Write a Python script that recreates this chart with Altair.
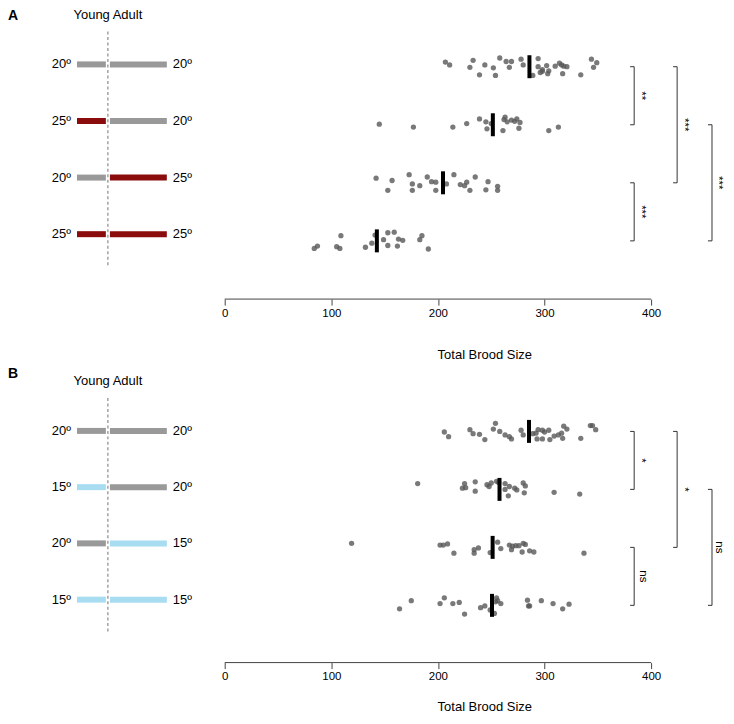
import altair as alt
import pandas as pd

FONT = "Liberation Sans"

# ------------------------- data -------------------------
ROWS = [1, 2, 3, 4]
TEMPS = ["15º", "20º", "25º"]

# Panel A: temperature before / after the young-adult stage
A_left = ["20º", "25º", "20º", "25º"]
A_right = ["20º", "20º", "25º", "25º"]
A_vals = [
    [207, 211, 233, 230, 239, 244, 252, 254, 258, 264, 269, 267, 278, 280, 294, 289, 294,
     298, 296, 302, 304, 303, 310, 314, 316, 318, 321, 317, 334, 344, 349, 346, 298],
    [145, 177, 214, 227, 239, 245, 246, 250, 261, 263, 262, 265, 269, 272, 274, 277, 276, 304, 313],
    [142, 157, 153, 173, 176, 176, 183, 190, 194, 198, 198, 208, 215, 221, 225, 227, 230,
     235, 245, 247, 256, 256],
    [84, 87, 105, 108, 109, 132, 138, 141, 149, 153, 153, 159, 163, 167, 162, 183, 185, 191],
]
A_jit = [
    [-0.08, -0.03, -0.11, 0.01, 0.14, -0.03, 0.02, 0.15, -0.15, -0.09, -0.09, 0.01, -0.13, -0.03,
     -0.14, 0.15, 0.0, 0.05, 0.10, -0.02, 0.07, 0.12, -0.01, -0.06, -0.03, -0.01, 0.0, 0.12, 0.14,
     -0.13, -0.07, 0.01, 0.08],
    [-0.01, 0.04, 0.04, -0.02, -0.10, -0.05, 0.07, -0.02, 0.10, -0.13, -0.09, -0.05, -0.08, -0.06,
     -0.10, -0.04, 0.06, 0.10, 0.04],
    [-0.08, -0.04, 0.13, -0.14, 0.02, 0.13, 0.05, -0.10, -0.02, -0.01, 0.13, 0.02, -0.14, 0.03,
     0.05, -0.01, 0.13, -0.10, 0.12, -0.02, 0.06, 0.13],
    [0.13, 0.09, 0.10, 0.13, -0.09, 0.11, 0.04, -0.10, -0.02, -0.14, 0.08, -0.15, -0.03, -0.01,
     0.09, -0.02, -0.09, 0.14],
]
A_sig = ["**", "***", "***", "***"]

# Panel B
B_left = ["20º", "15º", "20º", "15º"]
B_right = ["20º", "20º", "15º", "15º"]
B_vals = [
    [206, 210, 230, 233, 239, 244, 252, 254, 258, 263, 267, 269, 278, 280, 289, 292, 294, 293,
     298, 298, 300, 304, 305, 309, 313, 316, 318, 321, 317, 334, 343, 345, 348],
    [181, 223, 226, 225, 235, 235, 246, 248, 250, 255, 257, 263, 263, 266, 267, 272, 274, 280,
     282, 281, 309, 333],
    [119, 202, 205, 209, 215, 234, 234, 238, 249, 256, 259, 267, 270, 269, 273, 276, 280, 282,
     279, 286, 290, 337],
    [164, 175, 202, 206, 214, 220, 225, 240, 244, 249, 253, 255, 254, 256, 259, 284, 285, 286,
     297, 308, 317, 323],
]
B_jit = [
    [0.01, 0.09, -0.03, 0.04, 0.05, 0.14, -0.04, -0.14, 0.0, 0.06, 0.09, 0.13, -0.02, 0.06, 0.04,
     0.03, -0.03, 0.13, -0.02, 0.13, 0.01, -0.02, 0.14, 0.08, 0.06, 0.03, -0.09, -0.04, 0.12, 0.12,
     -0.10, -0.10, -0.03],
    [-0.10, -0.02, -0.03, -0.10, -0.13, 0.03, -0.08, -0.05, -0.11, -0.14, -0.12, -0.10, 0.0, 0.11,
     -0.05, -0.02, 0.01, -0.11, -0.06, 0.06, 0.05, 0.08],
    [-0.07, -0.04, -0.04, -0.06, 0.10, 0.04, 0.10, 0.01, 0.09, -0.09, 0.02, -0.04, -0.02, 0.04,
     -0.03, -0.03, -0.07, -0.05, 0.08, 0.06, 0.08, 0.10],
    [0.06, -0.08, -0.03, -0.13, -0.03, -0.05, 0.15, 0.04, 0.01, 0.08, 0.14, -0.13, -0.06, -0.08,
     -0.03, -0.09, 0.01, 0.01, -0.08, -0.03, 0.06, -0.02],
]
B_sig = ["*", "*", "ns", "ns"]

COMPARISONS = [(1, 2), (1, 3), (3, 4), (2, 4)]
X_TICKS = [0, 100, 200, 300, 400]

# ------------------------- layout / style -------------------------
W = 718
X_DOMAIN = [-203.3, 469.3]
TEMP_COLORS = ["#a8dcf1", "#999999", "#8b0c0c"]
SEG_LEFT = (-138.6, -111.5)
SEG_RIGHT = (-107.7, -54.3)
DASH_X = -109.6
LAB_LEFT_X = -144.3
LAB_RIGHT_X = -48.7
BRACKET_X = [384.1, 424.4, 384.1, 457.1]
BRACKET_TICK = 3.8
STAR_DX = 6.0
NS_DX = 8.0
TX_MAX = 464.0


def panel(letter, left_t, right_t, vals, jit, sig, height, ydat_dom, ysch_dom,
          ya_r, dash_r, title_y):
    one = pd.DataFrame({"k": [0]})
    xsc = alt.Scale(domain=X_DOMAIN, nice=False, zero=False)
    ysd = alt.Scale(domain=ydat_dom, nice=False, zero=False, reverse=True)
    yss = alt.Scale(domain=ysch_dom, nice=False, zero=False, reverse=True)
    csc = alt.Scale(domain=TEMPS, range=TEMP_COLORS)
    ax = alt.Axis(values=X_TICKS, format="d", title="Total Brood Size", grid=False,
                  domain=False, ticks=True, tickSize=6, tickColor="#444",
                  tickWidth=1, labelFont=FONT, labelFontSize=11.5,
                  labelColor="black", labelPadding=2, titleFont=FONT,
                  titleFontSize=13, titleFontWeight="normal", titleColor="black",
                  titleX=477, titleY=title_y, titleBaseline="middle",
                  titleAlign="center")

    def xn(f):
        return alt.X(f, scale=xsc, axis=ax)

    def xd(v):
        return alt.XDatum(v, scale=xsc, axis=ax)

    # ---- schematic ----
    seg = pd.DataFrame({
        "row": ROWS * 2,
        "start": [SEG_LEFT[0]] * 4 + [SEG_RIGHT[0]] * 4,
        "end": [SEG_LEFT[1]] * 4 + [SEG_RIGHT[1]] * 4,
        "temp": left_t + right_t,
    })
    lab = pd.DataFrame({"row": ROWS, "left": left_t, "right": right_t})

    dash = alt.Chart(one).mark_rule(color="#8a8a8a", strokeWidth=1.2, strokeDash=[3, 2.5]).encode(
        x=xd(DASH_X),
        y=alt.YDatum(dash_r[0], scale=yss, axis=None),
        y2=alt.datum(dash_r[1]),
    )
    segs = alt.Chart(seg).mark_rule(strokeWidth=6).encode(
        x=xn("start:Q"), x2="end:Q",
        y=alt.Y("row:Q", scale=yss, axis=None),
        color=alt.Color("temp:N", scale=csc, legend=None),
    )
    ltxt = alt.Chart(lab).mark_text(align="right", baseline="middle", font=FONT, fontSize=13,
                                    color="black").encode(
        x=xd(LAB_LEFT_X), y=alt.Y("row:Q", scale=yss, axis=None), text="left:N")
    rtxt = alt.Chart(lab).mark_text(align="left", baseline="middle", font=FONT, fontSize=13,
                                    color="black").encode(
        x=xd(LAB_RIGHT_X), y=alt.Y("row:Q", scale=yss, axis=None), text="right:N")
    ya = alt.Chart(one).mark_text(text="Young Adult", align="center", baseline="middle",
                                  font=FONT, fontSize=13, color="black").encode(
        x=xd(DASH_X), y=alt.YDatum(ya_r, scale=yss, axis=None))
    letter_t = alt.Chart(one).mark_text(text=letter, align="left", baseline="top", font=FONT,
                                        fontSize=14, fontWeight="bold", color="black").encode(
        x=alt.value(0), y=alt.value(0))
    schem = alt.layer(dash, segs, ltxt, rtxt, ya, letter_t)

    # ---- data ----
    recs = []
    for r, vs, js in zip(ROWS, vals, jit):
        for v, j in zip(vs, js):
            recs.append({"row": r, "value": v, "jit": j})
    pts_df = pd.DataFrame(recs)

    pts = alt.Chart(pts_df).transform_calculate(ypos="datum.row + datum.jit").mark_circle(
        size=28, color="#575757", opacity=0.8).encode(
        x=xn("value:Q"),
        y=alt.Y("ypos:Q", scale=ysd, axis=None),
    )
    mean = alt.Chart(pts_df).mark_tick(orient="vertical", size=23, thickness=4,
                                       color="black", opacity=1).encode(
        x=alt.X("mean(value):Q", scale=xsc, axis=ax),
        y=alt.Y("row:Q", scale=ysd, axis=None),
    )
    axis_line = alt.Chart(one).mark_rule(color="#444", strokeWidth=1).encode(
        x=xd(X_TICKS[0]), x2=alt.datum(X_TICKS[-1]),
        y=alt.value(height))

    br = pd.DataFrame({
        "r1": [c[0] for c in COMPARISONS],
        "r2": [c[1] for c in COMPARISONS],
        "bx": BRACKET_X,
        "bxi": [b - BRACKET_TICK for b in BRACKET_X],
        "tx": [min(b + (NS_DX if s == "ns" else STAR_DX), TX_MAX)
               for b, s in zip(BRACKET_X, sig)],
        "sig": sig,
    })
    br["mid"] = (br["r1"] + br["r2"]) / 2
    bv = alt.Chart(br).mark_rule(color="#333", strokeWidth=1).encode(
        x=xn("bx:Q"), y=alt.Y("r1:Q", scale=ysd, axis=None), y2="r2:Q")
    bt1 = alt.Chart(br).mark_rule(color="#333", strokeWidth=1).encode(
        x=xn("bxi:Q"), x2="bx:Q", y=alt.Y("r1:Q", scale=ysd, axis=None))
    bt2 = alt.Chart(br).mark_rule(color="#333", strokeWidth=1).encode(
        x=xn("bxi:Q"), x2="bx:Q", y=alt.Y("r2:Q", scale=ysd, axis=None))
    btx = alt.Chart(br).mark_text(angle=90, align="center", baseline="middle", font=FONT,
                                  fontSize=11.5, color="black").encode(
        x=xn("tx:Q"), y=alt.Y("mid:Q", scale=ysd, axis=None), text="sig:N")
    dat = alt.layer(axis_line, pts, mean, bv, bt1, bt2, btx)

    return alt.layer(schem, dat).resolve_scale(y="independent").properties(
        width=W, height=height)


pA = panel("A", A_left, A_right, A_vals, A_jit, A_sig, 290,
           [0.0143, 5.003], [0.0295, 5.147], 0.135, [0.418, 4.565], 55)
pB = panel("B", B_left, B_right, B_vals, B_jit, B_sig, 296,
           [-0.111, 4.987], [-0.136, 5.119], 0.112, [0.414, 4.586], 44)

chart = alt.vconcat(pA, pB, spacing=68, bounds="flush").properties(padding=0).configure_view(
    stroke=None)

chart.save("out.html", embed_options={"renderer": "svg", "actions": False})
